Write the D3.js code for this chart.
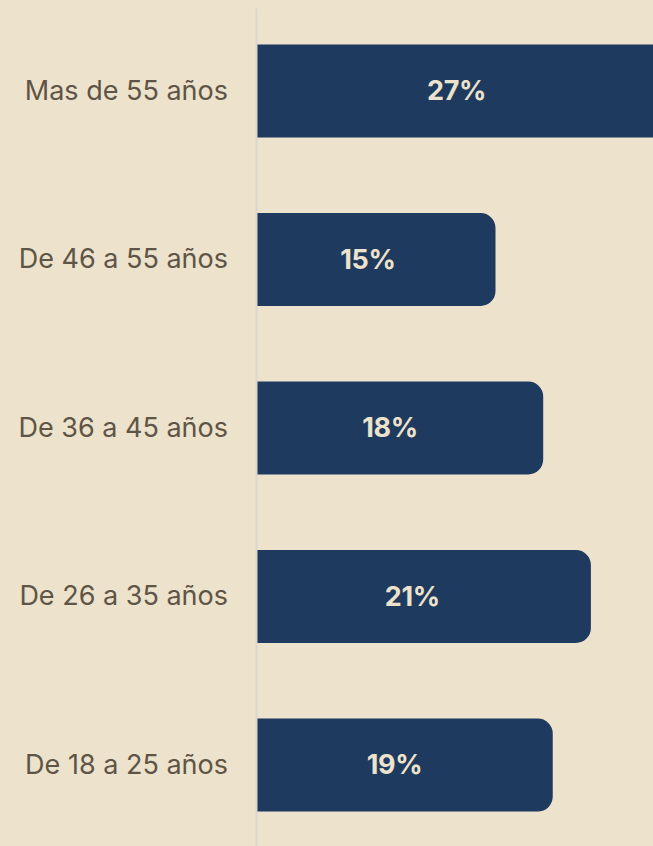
<!DOCTYPE html>
<html>
<head>
<meta charset="utf-8">
<script src="https://cdn.jsdelivr.net/npm/d3@7"></script>
<style>
  html, body { margin: 0; padding: 0; background: #ede2cc; }
  svg { display: block; }
</style>
</head>
<body>
<svg id="chart" width="653" height="846"></svg>
<script>
"use strict"

// data, top to bottom
const ageGroups = ["Mas de 55 años", "De 46 a 55 años", "De 36 a 45 años", "De 26 a 35 años", "De 18 a 25 años"];
// bar lengths as measured (the 19% bar draws slightly short)
const shares = [27, 15, 18, 21, 18.6];
const shareLabels = ["27%", "15%", "18%", "21%", "19%"];

const data = ageGroups.map((g, i) => ({group: g, value: shares[i], label: shareLabels[i]}));

const svg = d3.select("#chart");
const width = +svg.attr("width");
const height = +svg.attr("height");

// axis sits at x=256, bars run to the right (top bar is cut by the edge)
const x0 = 256;
const x = d3.scaleLinear().domain([0, 30]).range([0, 477]);
const y = d3.scaleBand()
  .domain(ageGroups)
  .range([8, 848])
  .paddingInner(0.448)
  .paddingOuter(0.2165);

svg.append("rect")
  .attr("width", width)
  .attr("height", height)
  .attr("fill", "#ede2cc");

// bars: square on the left, rounded on the right
const r = 15;
function barPath(d) {
  const p = d3.path();
  const left = x0 + 1, top = y(d.group), w = x(d.value), h = y.bandwidth();
  const right = left + w;
  p.moveTo(left, top);
  p.lineTo(right - r, top);
  p.arcTo(right, top, right, top + r, r);
  p.lineTo(right, top + h - r);
  p.arcTo(right, top + h, right - r, top + h, r);
  p.lineTo(left, top + h);
  p.closePath();
  return p.toString();
}

svg.append("g")
  .selectAll("path")
  .data(data)
  .join("path")
    .attr("d", barPath)
    .attr("fill", "#1f3a5f");

// value labels, a little left of the bar middle
svg.append("g")
  .selectAll("text")
  .data(data)
  .join("text")
    .attr("x", d => x0 + 1 + x(d.value) * 0.465)
    .attr("y", d => y(d.group) + y.bandwidth() / 2)
    .attr("dy", "0.35em")
    .attr("text-anchor", "middle")
    .attr("fill", "#ede2cc")
    .style("font-family", "Inter, 'Noto Sans', sans-serif")
    .style("font-weight", "700")
    .style("font-size", "27px")
    .style("letter-spacing", "-0.3px")
    .text(d => d.label);

// category axis
const axis = svg.append("g")
  .attr("transform", `translate(${x0},0)`)
  .call(d3.axisLeft(y).tickSize(0).tickPadding(28));

axis.select(".domain")
  .attr("stroke", "#dbd7cf")
  .attr("stroke-width", 2);

axis.selectAll(".tick text")
  .attr("fill", "#5e5546")
  .attr("dy", "0.32em")
  .style("font-family", "Inter, 'Noto Sans', sans-serif")
  .style("font-size", "27px")
  .style("font-weight", "400");
</script>
</body>
</html>
